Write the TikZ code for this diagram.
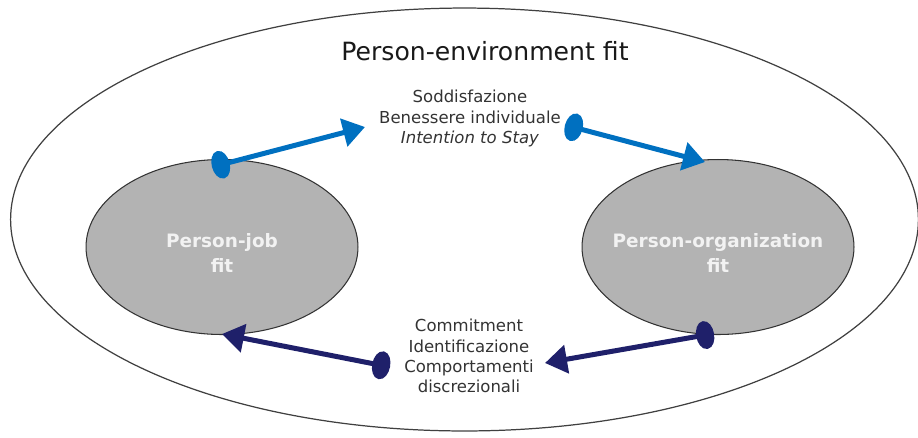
\documentclass[tikz,border=0pt]{standalone}
\usepackage{fontspec}
\setmainfont{DejaVu Sans}
\usetikzlibrary{shapes.geometric,arrows.meta,calc}
\definecolor{fitgray}{HTML}{B3B3B3}
\definecolor{fitblue}{HTML}{0070C0}
\definecolor{fitnavy}{HTML}{1F206A}

\begin{document}
\begin{tikzpicture}[
    x=0.02cm, y=-0.02cm,
    envellipse/.style={draw=black!75, line width=0.7pt, ellipse, minimum width=18.16cm, minimum height=8.46cm, inner sep=0pt},
    fitellipse/.style={draw=black!80, line width=0.6pt, fill=fitgray, ellipse, minimum width=5.44cm, minimum height=3.5cm, inner sep=0pt},
    fitlabel/.style={align=center, text=white!95!black, font=\bfseries\fontsize{10.5}{14}\selectfont},
    outcome/.style={align=center, text=black!80, font=\fontsize{9.4}{11.5}\selectfont},
    bluearrow/.style={line width=0.1cm, draw=fitblue, {Ellipse[length=0.36cm, width=0.56cm]}-{Triangle[length=0.44cm, width=0.56cm]}},
    navyarrow/.style={line width=0.1cm, draw=fitnavy, {Ellipse[length=0.36cm, width=0.56cm]}-{Triangle[length=0.44cm, width=0.56cm]}}
  ]
  \useasboundingbox (0,0) rectangle (918,437);

  % Outer ellipse
  \node[envellipse] (env) at (464.5,219.5) {};
  \node[text=black!90, font=\fontsize{14.3}{17}\selectfont] (title) at (485,51) {Person-environment fit};

  % Inner ellipses
  \node[fitellipse] (pj) at (222,247) {};
  \node[fitellipse] (po) at (718,247) {};
  \node[fitlabel] (pjtext) at ($(pj)+(0,6)$) {Person-job\\fit};
  \node[fitlabel] (potext) at ($(po)+(0,6)$) {Person-organization\\fit};

  % Outcomes
  \node[outcome] (t1) at (470,118.5) {Soddisfazione\\Benessere individuale\\\textit{Intention to Stay}};
  \node[outcome] (t2) at (469,356) {Commitment\\Identificazione\\Comportamenti\\discrezionali};

  % Arrows
  \draw[bluearrow] ($(pj.north)+(-10,8)$) -- ($(t1)+(-105,8.5)$);
  \draw[bluearrow] ($(t1)+(95,6.5)$) -- ($(po.north)+(-13,3)$);
  \draw[navyarrow] ($(t2)+(-79,11)$) -- ($(pj.south)+(0,-1)$);
  \draw[navyarrow] ($(po.south)+(-4,-1.5)$) -- ($(t2)+(76,7)$);

\end{tikzpicture}
\end{document}
